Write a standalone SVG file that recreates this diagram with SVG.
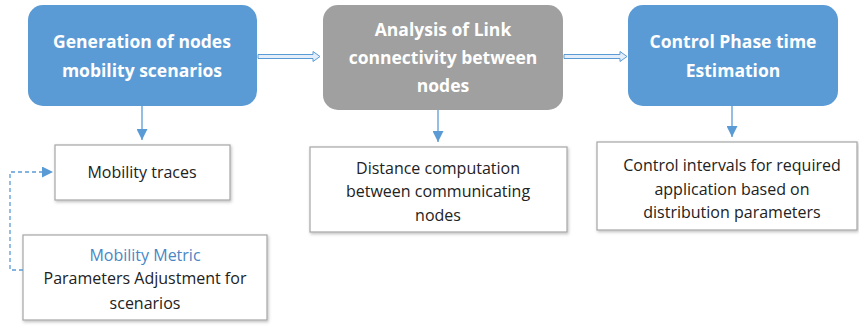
<svg xmlns="http://www.w3.org/2000/svg" width="859" height="326" viewBox="0 0 859 326">
<defs>
<style>
.title{font-family:"Open Sans","Liberation Sans",sans-serif;font-weight:bold;font-size:17.5px;fill:#fff;text-anchor:middle}
.body{font-family:"Open Sans","Liberation Sans",sans-serif;font-size:16px;fill:#222;text-anchor:middle}
.blue{fill:#5b9bd5}
.gray{fill:#a0a0a0}
.box{fill:#fff;stroke:#a6a6a6;stroke-width:1.2}
.conn{stroke:#5b9bd5;stroke-width:1.3;fill:none}
.dbl{fill:#e3eefa;stroke:#5b9bd5;stroke-width:1}
</style>
<marker id="ah" viewBox="0 0 10 10" refX="10" refY="5" markerWidth="11" markerHeight="11" markerUnits="userSpaceOnUse" orient="auto">
<path d="M0,0 L10,5 L0,10 z" fill="#5b9bd5"/>
</marker>
<filter id="sh" x="-10%" y="-10%" width="120%" height="130%">
<feDropShadow dx="1" dy="1.5" stdDeviation="1.5" flood-color="#000" flood-opacity="0.25"/>
</filter>
</defs>
<rect width="859" height="326" fill="#fff"/>
<g id="n1">
<rect x="28" y="5" width="229" height="101" rx="15" class="blue"/>
<text class="title" x="142" y="48">Generation of nodes</text>
<text class="title" x="142" y="77">mobility scenarios</text>
</g>
<g id="n2">
<rect x="323" y="5" width="240" height="105" rx="15" class="gray"/>
<text class="title" x="443" y="36">Analysis of Link</text>
<text class="title" x="443" y="64">connectivity between</text>
<text class="title" x="443" y="92">nodes</text>
</g>
<g id="n3">
<rect x="628" y="5" width="210" height="101" rx="15" class="blue"/>
<text class="title" x="733" y="48">Control Phase time</text>
<text class="title" x="733" y="77">Estimation</text>
</g>
<g id="n4">
<rect x="55" y="145" width="175" height="55" class="box" filter="url(#sh)"/>
<text class="body" x="142" y="178">Mobility traces</text>
</g>
<g id="n5">
<rect x="23" y="235" width="244" height="85" class="box" filter="url(#sh)"/>
<text class="body" x="145" y="261" style="fill:#4a86c5">Mobility Metric</text>
<text class="body" x="145" y="284">Parameters Adjustment for</text>
<text class="body" x="145" y="309">scenarios</text>
</g>
<g id="n6">
<rect x="310" y="147" width="257" height="85" class="box" filter="url(#sh)"/>
<text class="body" x="438" y="174">Distance computation</text>
<text class="body" x="438" y="197">between communicating</text>
<text class="body" x="438" y="221">nodes</text>
</g>
<g id="n7">
<rect x="597" y="142" width="260" height="88" class="box" filter="url(#sh)"/>
<text class="body" x="732" y="171">Control intervals for required</text>
<text class="body" x="732" y="195">application based on</text>
<text class="body" x="732" y="218">distribution parameters</text>
</g>
<g id="connectors">
<path class="dbl" d="M258,54.5 H313 V51.5 L320,56.5 L313,61.5 V58.5 H258 Z"/>
<path class="dbl" d="M564,54.5 H620 V51.5 L627,56.5 L620,61.5 V58.5 H564 Z"/>
<path class="conn" d="M142,106 V140" marker-end="url(#ah)"/>
<path class="conn" d="M438,110 V142" marker-end="url(#ah)"/>
<path class="conn" d="M732,106 V137" marker-end="url(#ah)"/>
<path class="conn" d="M23,270 H10 V172 H53" stroke-dasharray="4,3" marker-end="url(#ah)"/>
</g>
</svg>
